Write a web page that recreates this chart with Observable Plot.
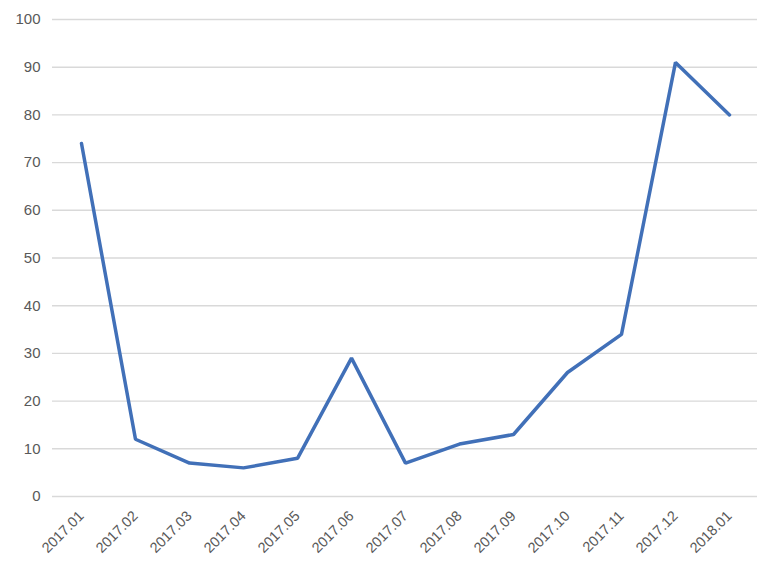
<!DOCTYPE html>
<html>
<head>
<meta charset="utf-8">
<script src="https://cdn.jsdelivr.net/npm/d3@7"></script>
<script src="https://cdn.jsdelivr.net/npm/@observablehq/plot@0.6"></script>
<style>
  html, body { margin: 0; padding: 0; background: #fff; }
</style>
</head>
<body>
<div id="chart"></div>
<script>
const months = ["2017.01","2017.02","2017.03","2017.04","2017.05","2017.06","2017.07","2017.08","2017.09","2017.10","2017.11","2017.12","2018.01"];
const values = [74, 12, 7, 6, 8, 29, 7, 11, 13, 26, 34, 91, 80];
const yTicks = [0,10,20,30,40,50,60,70,80,90,100];

const data = months.map((m, i) => ({month: m, value: values[i]}));

const chart = Plot.plot({
  width: 765,
  height: 572,
  marginLeft: 52,
  marginRight: 8,
  marginTop: 19,
  marginBottom: 76,
  style: {fontFamily: "Liberation Sans, sans-serif", fontSize: "14px", color: "#595959", background: "#fff"},
  x: {type: "point", domain: months, padding: 0.5, label: null},
  y: {domain: [0, 100], label: null},
  marks: [
    Plot.gridY(yTicks, {stroke: "#d9d9d9", strokeOpacity: 1, strokeWidth: 1.4}),
    Plot.axisY(yTicks, {tickSize: 0, tickPadding: 12, fill: "#595959", fontSize: 15}),
    Plot.axisX({tickSize: 0, tickRotate: -45, tickPadding: 17, fill: "#595959", fontSize: 14.5}),
    Plot.line(data, {x: "month", y: "value", stroke: "#4170B8", strokeWidth: 3.5, strokeLinejoin: "miter"})
  ]
});
document.getElementById("chart").appendChild(chart);
</script>
</body>
</html>
